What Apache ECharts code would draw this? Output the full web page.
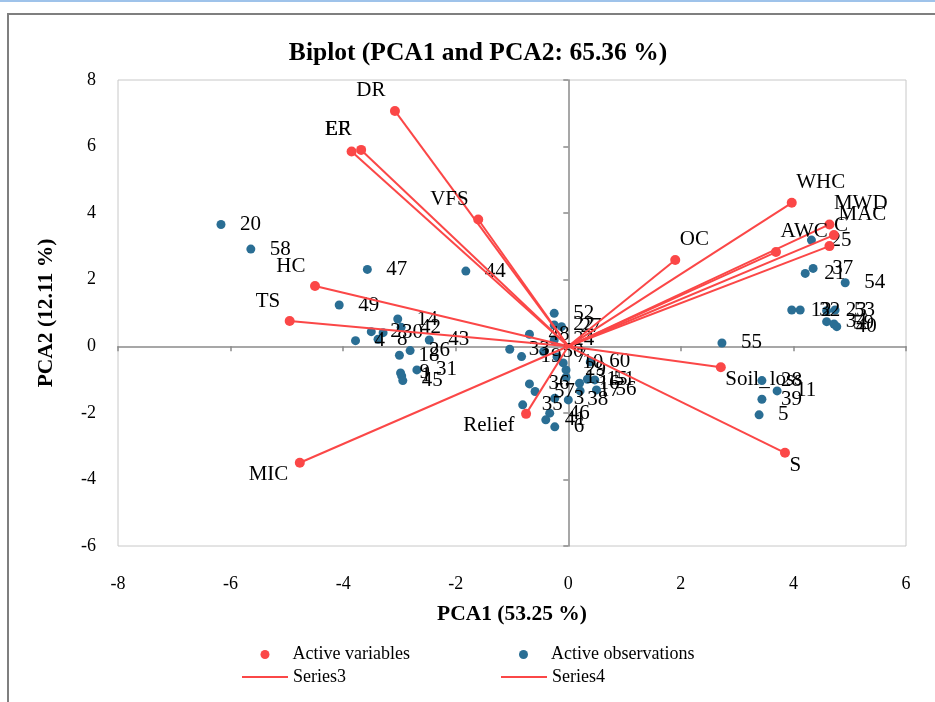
<!DOCTYPE html>
<html><head><meta charset="utf-8">
<script src="https://cdn.jsdelivr.net/npm/echarts@6/dist/echarts.min.js"></script>
<style>html,body{margin:0;padding:0;background:#fff}#chart{width:935px;height:702px}</style>
</head><body><div id="chart"></div>
<script>
// Observations (site numbers) and their scores on PCA1 / PCA2
const obsNames = ['20','58','47','44','49','14','2','30','42','4','8','43','18','26','31','9','1','45',
  '52','22','27','48','24','33','19','50','7','10','60','29','13','16','15','51','17','56','36','57','3','38','35','46','41','6',
  '55','25','21','37','54','12','32','23','53','34','59','40','28','11','39','5'];
const obsPC1 = [-6.17,-5.64,-3.57,-1.82,-4.07,-3.03,-3.50,-3.29,-2.97,-3.78,-3.38,-2.47,-3.00,-2.81,-2.69,-2.98,-2.96,-2.94,
  -0.25,-0.25,-0.12,-0.69,-0.25,-1.04,-0.83,-0.44,-0.20,-0.09,0.39,-0.04,-0.04,0.20,0.34,0.47,0.21,0.50,-0.69,-0.59,-0.24,0.00,-0.81,-0.33,-0.40,-0.24,
  2.73,4.32,4.21,4.35,4.92,3.97,4.12,4.59,4.74,4.59,4.72,4.77,3.44,3.71,3.44,3.39];
const obsPC2 = [3.66,2.92,2.31,2.26,1.24,0.82,0.44,0.41,0.57,0.17,0.21,0.19,-0.27,-0.13,-0.71,-0.80,-0.89,-1.03,
  0.99,0.64,0.59,0.36,0.19,-0.09,-0.31,-0.16,-0.32,-0.50,-0.47,-0.71,-0.93,-1.11,-0.99,-1.01,-1.34,-1.31,-1.13,-1.36,-1.56,-1.61,-1.76,-2.01,-2.21,-2.42,
  0.10,3.19,2.19,2.34,1.91,1.09,1.09,1.07,1.09,0.74,0.67,0.59,-1.03,-1.34,-1.59,-2.06];

// Variables (loadings) on PCA1 / PCA2
const varNames = ['DR','ER','EF','VFS','HC','TS','MIC','Relief','S','Soil_loss','OC','WHC','MWD','MAC','C','AWC'];
const varPC1 = [-3.08,-3.68,-3.85,-1.60,-4.50,-4.95,-4.77,-0.75,3.85,2.71,1.90,3.97,4.64,4.72,4.64,3.69];
const varPC2 = [7.07,5.90,5.85,3.81,1.81,0.76,-3.50,-2.03,-3.20,-0.63,2.59,4.31,3.66,3.34,3.01,2.83];
// which vector series each variable belongs to
const varGroup = ['Series3','Series3','Series3','Series3','Series3','Series3','Series3','Series3',
  'Series4','Series4','Series4','Series4','Series4','Series4','Series4','Series4'];
// label corner for each variable name
const varSide = ['tl','tl','tlx','tl','tl','tl','bl','bl','br','br','tr','tr','tr','tr','tr','tr'];

const axisTicks = {min: -8, max: 6, step: 2};
const axisTicksY = {min: -6, max: 8, step: 2};

const RED = '#fb4747';
const BLUE = '#2a6e94';
const FONT = '"Liberation Serif", "Times New Roman", serif';

const sideStyle = {
  tl:  {position: [-4.5, -15], align: 'right'},
  tlx: {position: [-21.3, -16.6], align: 'left'},
  tr:  {position: [9.5, -15.5], align: 'left'},
  bl:  {position: [-6.5, 16.5], align: 'right'},
  br:  {position: [9.5, 17.5], align: 'left'}
};

const varData = varNames.map((n, i) => {
  const s = sideStyle[varSide[i]];
  return {
    name: n, value: [varPC1[i], varPC2[i]],
    label: {show: true, formatter: n, position: s.position, align: s.align, verticalAlign: 'middle'}
  };
});
const obsData = obsNames.map((n, i) => ({name: n, value: [obsPC1[i], obsPC2[i]]}));

const vectorSeries = varNames.map((n, i) => ({
  name: varGroup[i], type: 'line', xAxisIndex: 0, yAxisIndex: 0,
  data: [[0, 0], [varPC1[i], varPC2[i]]],
  symbol: 'none', showSymbol: false, silent: true,
  lineStyle: {color: RED, width: 2}, itemStyle: {color: RED}, z: 3
}));

const baseLabel = {fontFamily: FONT, fontSize: 21, color: '#000'};
const legendText = {fontFamily: FONT, fontSize: 18, color: '#000'};
const dotLegendText = Object.assign({padding: [0, 0, 0, 18]}, legendText);

const option = {
  animation: false,
  backgroundColor: '#fff',
  title: {
    text: 'Biplot (PCA1 and PCA2: 65.36 %)', left: 473, top: 35, textAlign: 'center',
    textStyle: {fontFamily: FONT, fontSize: 25.5, fontWeight: 'bold', color: '#000'}
  },
  grid: {left: 118, top: 80, width: 788, height: 466, show: true, borderColor: '#c8c8c8', borderWidth: 1, containLabel: false},
  legend: [
    {data: [{name: 'Active variables', icon: 'circle'}], left: 260.5, top: 645.5, padding: 0, itemWidth: 9, itemHeight: 9, itemGap: 0,
      textStyle: dotLegendText, selectedMode: false},
    {data: [{name: 'Active observations', icon: 'circle'}], left: 519, top: 645.5, padding: 0, itemWidth: 9, itemHeight: 9, itemGap: 0,
      textStyle: dotLegendText, selectedMode: false},
    {data: [{name: 'Series3', icon: 'rect'}], left: 242, top: 668, padding: 0, itemWidth: 46, itemHeight: 2, itemGap: 0,
      textStyle: legendText, selectedMode: false},
    {data: [{name: 'Series4', icon: 'rect'}], left: 501, top: 668, padding: 0, itemWidth: 46, itemHeight: 2, itemGap: 0,
      textStyle: legendText, selectedMode: false}
  ],
  xAxis: [
    {type: 'value', min: axisTicks.min, max: axisTicks.max, interval: axisTicks.step, position: 'bottom',
      name: 'PCA1 (53.25 %)', nameLocation: 'middle', nameGap: 57,
      nameTextStyle: {fontFamily: FONT, fontSize: 21.5, fontWeight: 'bold', color: '#000'},
      axisLine: {show: false, onZero: false}, axisTick: {show: false}, splitLine: {show: false},
      axisLabel: {fontFamily: FONT, fontSize: 18, color: '#000', margin: 29}},
    {type: 'value', min: axisTicks.min, max: axisTicks.max, interval: axisTicks.step, position: 'top',
      axisLine: {show: true, onZero: true, lineStyle: {color: '#8a8a8a', width: 1.5}},
      axisTick: {show: true, inside: true, length: 5, lineStyle: {color: '#8a8a8a', width: 1.5}},
      axisLabel: {show: false}, splitLine: {show: false}}
  ],
  yAxis: [
    {type: 'value', min: axisTicksY.min, max: axisTicksY.max, interval: axisTicksY.step, position: 'left',
      name: 'PCA2 (12.11 %)', nameLocation: 'middle', nameGap: 61, nameRotate: 90,
      nameTextStyle: {fontFamily: FONT, fontSize: 21.5, fontWeight: 'bold', color: '#000'},
      axisLine: {show: false, onZero: false}, axisTick: {show: false}, splitLine: {show: false},
      axisLabel: {fontFamily: FONT, fontSize: 18, color: '#000', margin: 22}},
    {type: 'value', min: axisTicksY.min, max: axisTicksY.max, interval: axisTicksY.step, position: 'right',
      axisLine: {show: true, onZero: true, lineStyle: {color: '#8a8a8a', width: 1.5}},
      axisTick: {show: true, inside: true, length: 5, lineStyle: {color: '#8a8a8a', width: 1.5}},
      axisLabel: {show: false}, splitLine: {show: false}}
  ],
  series: [
    {name: 'Active variables', type: 'scatter', xAxisIndex: 0, yAxisIndex: 0, data: varData,
      symbolSize: 10, itemStyle: {color: RED, opacity: 1}, z: 4,
      label: Object.assign({show: true}, baseLabel)},
    {name: 'Active observations', type: 'scatter', xAxisIndex: 0, yAxisIndex: 0, data: obsData,
      symbolSize: 9, itemStyle: {color: BLUE, opacity: 1}, z: 2,
      label: Object.assign({show: true, position: 'right', distance: 14.5, formatter: '{b}'}, baseLabel)}
  ].concat(vectorSeries),
  graphic: [
    {type: 'rect', shape: {x: 8, y: 14, width: 940, height: 700}, style: {fill: null, stroke: '#7f7f7f', lineWidth: 2}, silent: true},
    {type: 'line', shape: {x1: 0, y1: 1, x2: 935, y2: 1}, style: {stroke: '#9fc3ea', lineWidth: 2}, silent: true}
  ]
};

const chart = echarts.init(document.getElementById('chart'), null, {renderer: 'canvas'});
chart.setOption(option);
</script>
</body></html>
